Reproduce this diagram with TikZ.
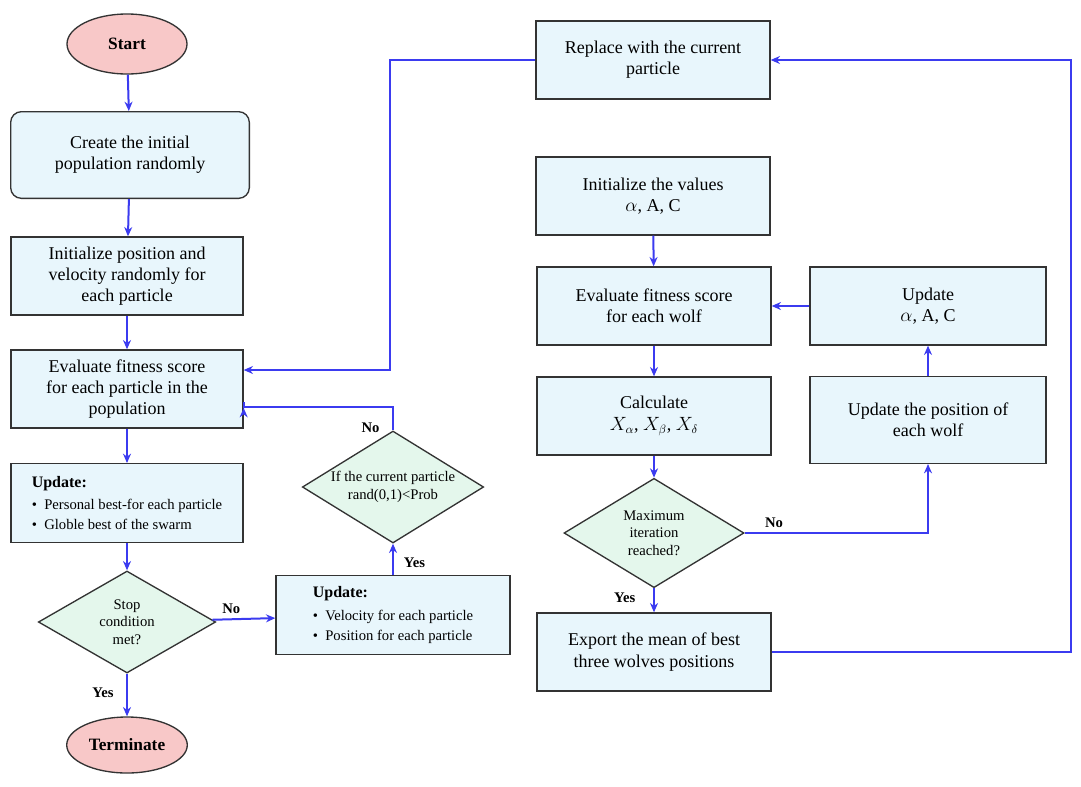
\documentclass[tikz,border=0pt]{standalone}
\usepackage{fontspec}
\setmainfont{Liberation Serif}
\usetikzlibrary{shapes.geometric, arrows.meta, positioning}
\definecolor{boxfill}{HTML}{E8F6FC}
\definecolor{diafill}{HTML}{E4F7EC}
\definecolor{endfill}{HTML}{F8C8C8}
\definecolor{arrowblue}{HTML}{3B3BF0}
\tikzset{
    box/.style = {rectangle, draw=black!80, line width=1pt, fill=boxfill, align=center, font=\fontsize{13.5}{16}\selectfont, minimum width=174pt, minimum height=58.5pt},
    listbox/.style = {box, align=left, font=\fontsize{11}{15}\selectfont},
    dia/.style = {diamond, draw=black!80, line width=1pt, fill=diafill, align=center, font=\fontsize{11}{13}\selectfont, aspect=1.75, inner sep=0pt},
    term/.style = {ellipse, draw=black!80, line width=1pt, fill=endfill, font=\fontsize{13}{15}\selectfont\bfseries},
    flow/.style = {-{Stealth[length=7pt,width=6pt]}, draw=arrowblue, line width=1.5pt},
    lbl/.style = {font=\fontsize{11}{13}\selectfont\bfseries}
}
\begin{document}
\begin{tikzpicture}[x=0.75pt, y=-0.75pt]
    \useasboundingbox (0,0) rectangle (1081,786);
    % left column
    \node [term, minimum width=90pt, minimum height=45pt] (start) at (127,44) {Start};
    \node [box, rounded corners=8pt, minimum width=179pt, minimum height=65pt] (create) at (130,155) {Create the initial\\population randomly};
    \node [box] (initpos) at (127,276) {Initialize position and\\velocity randomly for\\each particle};
    \node [box] (evalpart) at (127,389) {Evaluate fitness score\\for each particle in the\\population};
    \node [listbox, minimum height=59pt] (upbest) at (127,503) {{\fontsize{12}{14}\selectfont\bfseries Update:}\\[2pt]
        \textbullet\enspace Personal best-for each particle\\
        \textbullet\enspace Globle best of the swarm};
    \node [dia, minimum width=133pt, minimum height=76.5pt] (stop) at (127,622) {Stop\\condition\\met?};
    \node [term, minimum width=82pt, minimum height=42pt] (terminate) at (127,745) {Terminate};
    % middle column
    \node [listbox, minimum width=175.5pt, minimum height=59pt] (upvel) at (393,615) {{\fontsize{12}{14}\selectfont\bfseries Update:}\\[2pt]
        \textbullet\enspace Velocity for each particle\\
        \textbullet\enspace Position for each particle};
    \node [dia, minimum width=136pt, minimum height=84pt] (ifprob) at (393,487) {If the current particle\\rand(0,1)<Prob};
    % right part
    \node [box, minimum width=175.5pt] (replace) at (653,60) {Replace with the current\\particle};
    \node [box, minimum width=175.5pt] (initval) at (653,196) {Initialize the values\\$\alpha$, A, C};
    \node [box, minimum width=175.5pt] (evalwolf) at (654,306) {Evaluate fitness score\\for each wolf};
    \node [box, minimum width=175.5pt] (calc) at (654,416) {Calculate\\$X_\alpha$, $X_\beta$, $X_\delta$};
    \node [dia, minimum width=135pt, minimum height=82pt] (maxit) at (654,533) {Maximum\\iteration\\reached?};
    \node [box, minimum width=175.5pt] (export) at (654,652) {Export the mean of best\\three wolves positions};
    \node [box, minimum width=177pt] (upalpha) at (928,306) {Update\\$\alpha$, A, C};
    \node [box, minimum width=177pt, minimum height=65pt] (uppos) at (928,420) {Update the position of\\each wolf};
    % connectors
    \draw [flow] (start) -- (create);
    \draw [flow] (create) -- (initpos);
    \draw [flow] (initpos) -- (evalpart);
    \draw [flow] (evalpart) -- (upbest);
    \draw [flow] (upbest) -- (stop);
    \draw [flow] (stop) -- node [lbl, left=6pt, pos=0.45] {Yes} (terminate);
    \draw [flow] (stop) -- node [lbl, above, pos=0.3] {No} (upvel);
    \draw [flow] (upvel) -- node [lbl, right=4pt, pos=0.4] {Yes} (ifprob);
    \draw [flow] (ifprob.north) -- ++(0,-23) node [lbl, left=6pt, pos=0.1] {No} -| (evalpart.east |- 0,408) -- (evalpart.east |- 0,408);
    \draw [flow] (replace.west) -| (390,370) -- (evalpart.east |- 0,370);
    \draw [flow] (initval) -- (evalwolf);
    \draw [flow] (evalwolf) -- (calc);
    \draw [flow] (calc) -- (maxit);
    \draw [flow] (maxit) -- node [lbl, left=10pt, pos=0.4] {Yes} (export);
    \draw [flow] (maxit.east) -| node [lbl, above, pos=0.08] {No} (uppos.south);
    \draw [flow] (uppos) -- (upalpha);
    \draw [flow] (upalpha) -- (evalwolf);
    \draw [flow] (export.east) -- (1071,652) |- (replace.east);
\end{tikzpicture}
\end{document}
